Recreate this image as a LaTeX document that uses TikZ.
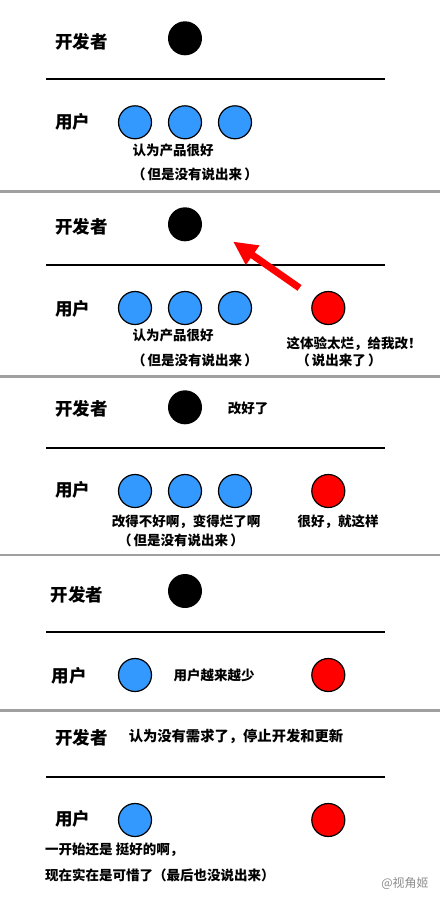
\documentclass[tikz,border=0pt]{standalone}
\usepackage{fontspec}
\usepackage{tikz}
\usetikzlibrary{arrows.meta}
\newfontfamily\cjk{Noto Sans CJK SC}
\definecolor{userblue}{RGB}{51,153,255}
\definecolor{sepgray}{RGB}{160,160,160}

\begin{document}
\begin{tikzpicture}[x=1pt,y=-1pt,
	role/.style={anchor=west,inner sep=0pt,font=\cjk\bfseries\fontsize{17.5}{20}\selectfont},
	say/.style={font=\cjk\bfseries\fontsize{13.5}{16}\selectfont},
	dev/.style={circle,fill=black,minimum size=34pt,inner sep=0pt},
	user/.style={circle,draw=black,line width=1.2pt,fill=userblue,minimum size=33pt,inner sep=0pt},
	angry/.style={user,fill=red},
	bar/.style={line width=2pt},
	sep/.style={line width=2.5pt,draw=sepgray},
	complain/.style={draw=red,line width=7pt,-{Triangle[length=24pt,width=22pt]}}]
	\useasboundingbox (0,0) rectangle (440,900);
	% lines between developer and users, and between the panels
	\foreach \y in {79,265.3,447.7,631.7,776.7}
		\draw[bar] (46,\y) -- (385,\y);
	\foreach \y in {191.7,376.5,555,710.5}
		\draw[sep] (0,\y) -- (440,\y);

	% panel 1
	\node[role] (dev1) at (55,41.7) {开发者};
	\node[dev] (d1) at (185,38.3) {};
	\node[role] (usr1) at (55,122.3) {用户};
	\foreach \x [count=\i] in {135,185,235}
		\node[user] (u1\i) at (\x,122.3) {};
	\node[say] (think1) at (173,150) {认为产品很好};
	\node[say] (quiet1) at (195,174) {（\,但是没有说出来\,）};

	% panel 2
	\node[role] (dev2) at (55,227) {开发者};
	\node[dev] (d2) at (185,224.3) {};
	\node[role] (usr2) at (55,309) {用户};
	\foreach \x [count=\i] in {135,185,235}
		\node[user] (u2\i) at (\x,308) {};
	\node[angry] (r2) at (328.3,308) {};
	\node[say] (think2) at (173,335.7) {认为产品很好};
	\node[say] (quiet2) at (195,360.5) {（\,但是没有说出来\,）};
	\node[say] (yell2) at (354,343.3) {这体验太烂，给我改！};
	\node[say] (loud2) at (339,360) {（\,说出来了\,）};
	\coordinate (gripe) at (233,241.5);
	\draw[complain,shorten <=18pt] (r2) -- (gripe);

	% panel 3
	\node[role] (dev3) at (55,409) {开发者};
	\node[dev] (d3) at (185,407.3) {};
	\node[say] (fixed3) at (248,408) {改好了};
	\node[role] (usr3) at (55,490) {用户};
	\foreach \x [count=\i] in {135,185,235}
		\node[user] (u3\i) at (\x,491) {};
	\node[angry] (r3) at (328.3,491) {};
	\node[say] (worse3) at (186,521.7) {改得不好啊，变得烂了啊};
	\node[say] (quiet3) at (181,540) {（\,但是没有说出来\,）};
	\node[say] (happy3) at (338,521.7) {很好，就这样};

	% panel 4
	\node[role] (dev4) at (50.7,595) {开发者};
	\node[dev] (d4) at (185,591) {};
	\node[role] (usr4) at (51.7,676) {用户};
	\node[user] (u41) at (135,675) {};
	\node[say] (fewer4) at (214,675) {用户越来越少};
	\node[angry] (r4) at (328.3,675) {};

	% panel 5
	\node[role] (dev5) at (55,738) {开发者};
	\node[say,font=\cjk\bfseries\fontsize{14.3}{17}\selectfont] (stop5) at (236,736) {认为没有需求了，停止开发和更新};
	\node[role] (usr5) at (55,819) {用户};
	\node[user] (u51) at (135,820) {};
	\node[angry] (r5) at (328.3,820) {};
	\node[say,anchor=west,inner sep=0pt] (once5) at (45,850) {一开始还是 挺好的啊，};
	\node[say,anchor=west,inner sep=0pt] (pity5) at (45,875) {现在实在是可惜了（最后也没说出来）};
	\node[font=\cjk\fontsize{12}{14}\selectfont,text=black!45] (mark) at (405,883) {@视角姬};
\end{tikzpicture}
\end{document}
